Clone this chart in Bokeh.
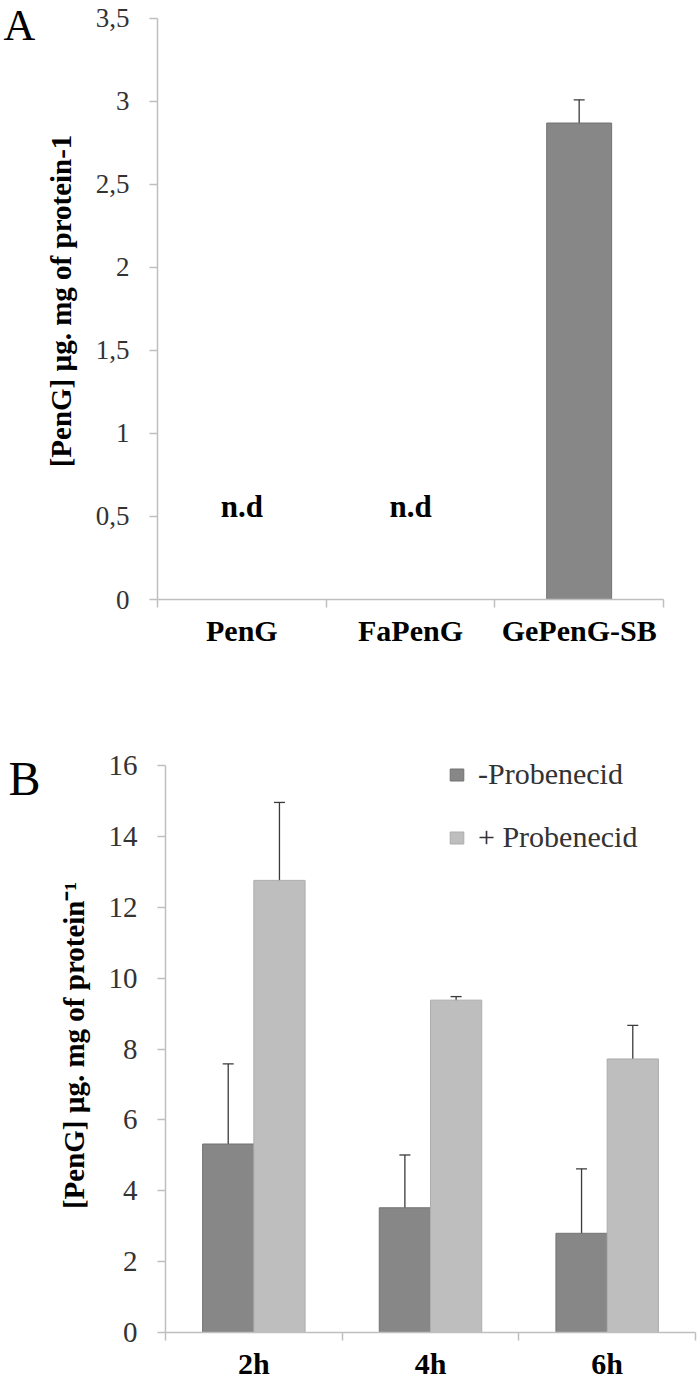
from bokeh.plotting import figure
from bokeh.models import (Range1d, FixedTicker, Whisker, ColumnDataSource,
                          Legend, LegendItem, TeeHead)
from bokeh.layouts import column, row
from bokeh.embed import file_html
from bokeh.resources import INLINE
from bokeh.core.properties import value

# ---------------- Panel A data ----------------
a_categories = ["PenG", "FaPenG", "GePenG-SB"]
a_values = [0.0, 0.0, 2.87]
a_errors = [0.0, 0.0, 0.14]
a_detected = [False, False, True]
a_yticks = [0, 0.5, 1, 1.5, 2, 2.5, 3, 3.5]
a_ytick_labels = ["0", "0,5", "1", "1,5", "2", "2,5", "3", "3,5"]
a_ylabel = "[PenG] µg. mg of protein-1"
a_nd_text = "n.d"

# ---------------- Panel B data ----------------
b_categories = ["2h", "4h", "6h"]
b_series = ["-Probenecid", "+ Probenecid"]
b_minus = [5.32, 3.52, 2.80]
b_minus_err = [2.26, 1.49, 1.82]
b_plus = [12.76, 9.38, 7.72]
b_plus_err = [2.20, 0.10, 0.95]
b_yticks = [0, 2, 4, 6, 8, 10, 12, 14, 16]
b_ylabel = "[PenG] µg. mg of protein\u207b\u00b9"

panel_letters = ["A", "B"]

SERIF = "Liberation Serif"
AXIS_COL = "#bfbfbf"
TICK_TXT = "#333333"
DARK = "#878787"
DARK_LINE = "#737373"
LIGHT = "#bebebe"
LIGHT_LINE = "#acacac"
ERR_COL = "#3a3a3a"
LETTER_W = 40


def style_common(p):
    p.outline_line_color = None
    p.xgrid.visible = False
    p.ygrid.visible = False
    p.background_fill_color = "white"
    p.border_fill_color = "white"


def style_xaxis(p, cats, size, standoff):
    ax = p.xaxis[0]
    centers = [i + 0.5 for i in range(len(cats))]
    bounds = [float(i) for i in range(len(cats) + 1)]
    ax.ticker = FixedTicker(ticks=centers, minor_ticks=bounds)
    ax.major_label_overrides = {c: t for c, t in zip(centers, cats)}
    ax.major_tick_line_color = None
    ax.major_tick_out = 0
    ax.major_tick_in = 0
    ax.minor_tick_line_color = AXIS_COL
    ax.minor_tick_line_width = 1.5
    ax.minor_tick_out = 8
    ax.minor_tick_in = 0
    ax.axis_line_color = AXIS_COL
    ax.axis_line_width = 1.5
    ax.major_label_text_font = SERIF
    ax.major_label_text_font_style = "bold"
    ax.major_label_text_font_size = size
    ax.major_label_text_color = "black"
    ax.major_label_standoff = standoff


def style_yaxis(p, ticks, labels, label, size):
    ax = p.yaxis[0]
    ax.ticker = FixedTicker(ticks=ticks, minor_ticks=[])
    ax.major_label_overrides = {t: l for t, l in zip(ticks, labels)}
    ax.bounds = (ticks[0], ticks[-1])
    ax.major_tick_out = 8
    ax.major_tick_in = 0
    ax.major_tick_line_color = AXIS_COL
    ax.major_tick_line_width = 1.5
    ax.minor_tick_line_color = None
    ax.axis_line_color = AXIS_COL
    ax.axis_line_width = 1.5
    ax.major_label_text_font = SERIF
    ax.major_label_text_font_size = size
    ax.major_label_text_color = TICK_TXT
    ax.major_label_standoff = 20
    ax.axis_label = label
    ax.axis_label_text_font = SERIF
    ax.axis_label_text_font_style = "bold"
    ax.axis_label_text_font_size = "29px"
    ax.axis_label_text_color = "black"
    ax.axis_label_standoff = 16


def add_whiskers(p, src):
    p.add_layout(Whisker(base="x", upper="upper", lower="lower", source=src,
                         line_color=ERR_COL, line_width=1.3,
                         upper_head=TeeHead(size=11, line_color=ERR_COL, line_width=1.3),
                         lower_head=TeeHead(size=11, line_color=ERR_COL, line_width=1.3)))


def letter_fig(letter, partner, x, y, size):
    # same height, same vertical borders and shared y range as its panel,
    # so the letter is placed in the panel's own vertical scale
    f = figure(width=LETTER_W, height=partner.height, x_range=Range1d(0, LETTER_W),
               y_range=partner.y_range, x_axis_type=None, y_axis_type=None,
               output_backend="svg", toolbar_location=None,
               min_border_left=0, min_border_right=0,
               min_border_top=partner.min_border_top,
               min_border_bottom=partner.min_border_bottom)
    style_common(f)
    f.text(x=[x], y=[y], text=[letter], text_font=value(SERIF),
           text_font_size=size, text_color="black", text_baseline="alphabetic",
           text_align="left")
    return f


# ================= Panel A =================
A_H = 669
pA = figure(width=700 - LETTER_W, height=A_H, x_range=Range1d(0, 3), y_range=Range1d(0, 3.596),
            output_backend="svg", toolbar_location=None,
            min_border_left=157 - LETTER_W, min_border_right=37,
            min_border_top=2, min_border_bottom=70)
style_common(pA)

a_x = [i + 0.5 for i in range(len(a_categories))]
srcA = ColumnDataSource(dict(
    x=[x for x, d in zip(a_x, a_detected) if d],
    top=[v for v, d in zip(a_values, a_detected) if d],
    upper=[v + e for v, e, d in zip(a_values, a_errors, a_detected) if d],
    lower=[v - e for v, e, d in zip(a_values, a_errors, a_detected) if d],
))
pA.vbar(x="x", top="top", bottom=0, width=0.385, source=srcA,
        fill_color=DARK, line_color=DARK_LINE, line_width=1)
add_whiskers(pA, srcA)

nd_x = [x for x, d in zip(a_x, a_detected) if not d]
pA.text(x=nd_x, y=[0.56] * len(nd_x), text=[a_nd_text] * len(nd_x),
        text_font=value(SERIF), text_font_style="bold", text_font_size="31px",
        text_align="center", text_baseline="alphabetic", text_color="black")

style_xaxis(pA, a_categories, "30px", 6)
style_yaxis(pA, a_yticks, a_ytick_labels, a_ylabel, "27px")

letA = letter_fig(panel_letters[0], pA, 3, 3.46, "44px")

# ================= Panel B =================
B_H = 713
pB = figure(width=700 - LETTER_W, height=B_H, x_range=Range1d(0, 3), y_range=Range1d(0, 16.2),
            output_backend="svg", toolbar_location=None,
            min_border_left=165 - LETTER_W, min_border_right=5,
            min_border_top=89, min_border_bottom=49)
style_common(pB)

b_x = [i + 0.5 for i in range(len(b_categories))]
bw = 0.29
srcM = ColumnDataSource(dict(
    x=[x - bw / 2 for x in b_x], top=b_minus,
    upper=[v + e for v, e in zip(b_minus, b_minus_err)],
    lower=[v - e for v, e in zip(b_minus, b_minus_err)],
))
srcP = ColumnDataSource(dict(
    x=[x + bw / 2 for x in b_x], top=b_plus,
    upper=[v + e for v, e in zip(b_plus, b_plus_err)],
    lower=[v - e for v, e in zip(b_plus, b_plus_err)],
))
rM = pB.vbar(x="x", top="top", bottom=0, width=bw, source=srcM,
             fill_color=DARK, line_color=DARK_LINE, line_width=1)
rP = pB.vbar(x="x", top="top", bottom=0, width=bw, source=srcP,
             fill_color=LIGHT, line_color=LIGHT_LINE, line_width=1)
add_whiskers(pB, srcM)
add_whiskers(pB, srcP)

style_xaxis(pB, b_categories, "30px", 6)
style_yaxis(pB, b_yticks, [str(t) for t in b_yticks], b_ylabel, "29px")

legend = Legend(items=[LegendItem(label=b_series[0], renderers=[rM]),
                       LegendItem(label=b_series[1], renderers=[rP])],
                location=(283, 478))
legend.border_line_color = None
legend.background_fill_alpha = 0
legend.padding = 0
legend.margin = 0
legend.spacing = 29
legend.glyph_width = 17
legend.glyph_height = 15
legend.label_standoff = 13
legend.label_text_font = SERIF
legend.label_text_font_size = "30px"
legend.label_text_color = TICK_TXT
pB.add_layout(legend)

letB = letter_fig(panel_letters[1], pB, 8, 15.64, "48px")

layout = column(row(letA, pA, spacing=0), row(letB, pB, spacing=0), spacing=0)
open("out.html", "w").write(file_html(layout, INLINE))
